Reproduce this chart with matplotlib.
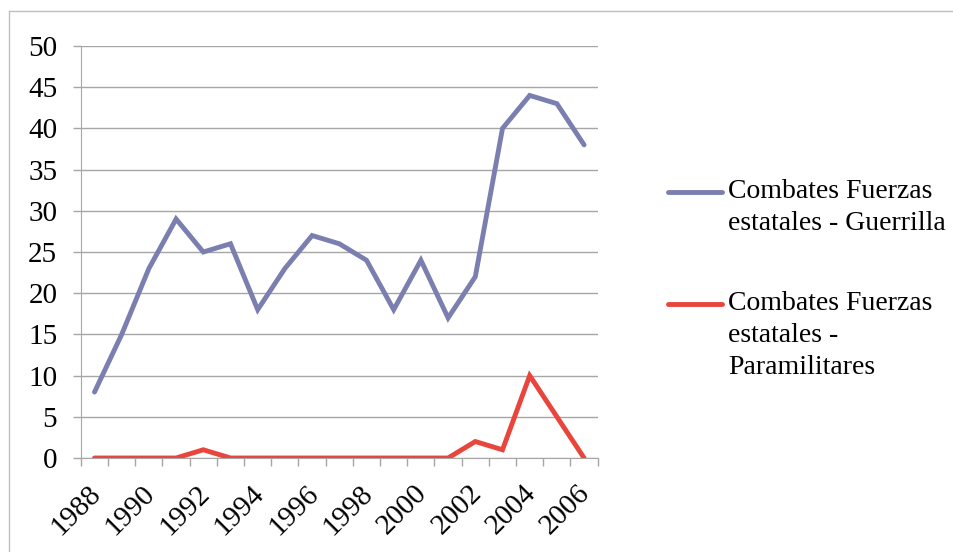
import matplotlib
matplotlib.use("Agg")
import matplotlib.pyplot as plt
import matplotlib.transforms as mtransforms
from matplotlib.lines import Line2D

plt.rcParams["font.family"] = ["Liberation Serif", "DejaVu Serif"]

# Combates por año
anios = list(range(1988, 2007))
guerrilla = [8, 15, 23, 29, 25, 26, 18, 23, 27, 26, 24, 18, 24, 17, 22, 40, 44, 43, 38]
paramilitares = [0, 0, 0, 0, 1, 0, 0, 0, 0, 0, 0, 0, 0, 0, 2, 1, 10, 5, 0]

etiquetas = [
    "Combates Fuerzas\nestatales - Guerrilla",
    "Combates Fuerzas\nestatales -\nParamilitares",
]
colores = ["#7A7FB0", "#E8453C"]

FS = 21
FS_LEY = 20
GRIS = "#A6A6A6"

fig = plt.figure(figsize=(9.54, 5.52), dpi=100)
ax = fig.add_axes([80.9 / 954, 1 - 458 / 552, (597.7 - 80.9) / 954, (458 - 46) / 552])

x = list(range(len(anios)))
ax.plot(x, guerrilla, color=colores[0], lw=3.5, solid_capstyle="round", solid_joinstyle="miter")
ax.plot(x, paramilitares, color=colores[1], lw=3.5, solid_capstyle="round", solid_joinstyle="miter")

ax.set_xlim(-0.5, len(anios) - 0.5)
ax.set_ylim(0, 50)
ax.set_yticks(range(0, 51, 5))
ax.tick_params(axis="y", length=6, width=1, color=GRIS, pad=11, labelsize=FS)
ax.yaxis.grid(True, color=GRIS, lw=1)
ax.set_axisbelow(True)

# etiquetas solo en años pares, marcas entre categorías
pares = [i for i, a in enumerate(anios) if a % 2 == 0]
ax.set_xticks(pares)
ax.set_xticklabels([str(anios[i]) for i in pares])
ax.set_xticks([i - 0.5 for i in range(len(anios) + 1)], minor=True)
ax.tick_params(axis="x", which="major", length=0, pad=16, labelsize=FS)
ax.tick_params(axis="x", which="minor", length=6, width=1, color=GRIS)
desplaza = mtransforms.ScaledTranslation(-7 / 100, 0, fig.dpi_scale_trans)
for lbl in ax.get_xticklabels():
    lbl.set_rotation(45)
    lbl.set_ha("right")
    lbl.set_va("top")
    lbl.set_rotation_mode("anchor")
    lbl.set_transform(lbl.get_transform() + desplaza)

for lado in ["top", "right"]:
    ax.spines[lado].set_visible(False)
ax.spines["left"].set_color(GRIS)
ax.spines["bottom"].set_color(GRIS)

# leyenda a la derecha, con la línea a la altura del primer renglón
W, H = 954, 552
for color, texto, y in zip(colores, etiquetas, [192, 304]):
    fig.add_artist(Line2D([668 / W, 722 / W], [1 - y / H, 1 - y / H], color=color,
                          lw=3.5, solid_capstyle="round", transform=fig.transFigure))
    fig.text(728 / W, 1 - (y - 13) / H, texto, fontsize=FS_LEY, va="top", ha="left",
             linespacing=1.38)

# borde del área del gráfico (solo arriba e izquierda)
fig.add_artist(Line2D([9 / W, 1], [1 - 10.5 / H, 1 - 10.5 / H], color="#BFBFBF", lw=1,
                      transform=fig.transFigure))
fig.add_artist(Line2D([9 / W, 9 / W], [0, 1 - 10.5 / H], color="#BFBFBF", lw=1,
                      transform=fig.transFigure))

fig.savefig("out.png", dpi=100)
